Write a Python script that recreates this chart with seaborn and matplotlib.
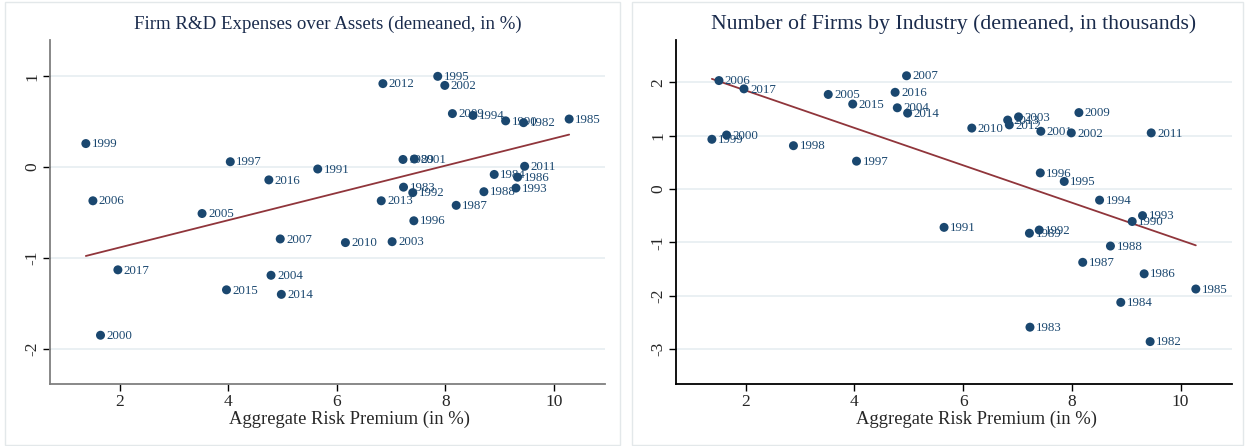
import numpy as np
import pandas as pd
import matplotlib
matplotlib.use("Agg")
import matplotlib.pyplot as plt
from matplotlib.patches import Rectangle
import seaborn as sns

years = [1982, 1983, 1984, 1985, 1986, 1987, 1988, 1989, 1990, 1991,
         1992, 1993, 1994, 1995, 1996, 1997, 1998, 1999, 2000, 2001,
         2002, 2003, 2004, 2005, 2006, 2007, 2009, 2010, 2011, 2012,
         2013, 2014, 2015, 2016, 2017]

risk_premium = [9.44, 7.23, 8.90, 10.28, 9.33, 8.20, 8.71, 7.22, 9.11, 5.65,
                7.40, 9.30, 8.51, 7.86, 7.42, 4.04, 2.88, 1.38, 1.65, 7.43,
                7.99, 7.02, 4.79, 3.52, 1.51, 4.96, 8.13, 6.16, 9.46, 6.85,
                6.82, 4.98, 3.97, 4.75, 1.97]

rd_expenses = [0.49, -0.22, -0.08, 0.53, -0.11, -0.42, -0.27, 0.085, 0.51, -0.02,
               -0.28, -0.23, 0.57, 1.00, -0.59, 0.06, np.nan, 0.26, -1.85, 0.09,
               0.90, -0.82, -1.19, -0.51, -0.37, -0.79, 0.59, -0.83, 0.01, 0.92,
               -0.37, -1.40, -1.35, -0.14, -1.13]

num_firms = [-2.86, -2.59, -2.125, -1.875, -1.59, -1.375, -1.07, -0.83, -0.61, -0.72,
             -0.77, -0.50, -0.21, 0.14, 0.30, 0.52, 0.81, 0.93, 1.01, 1.08,
             1.05, 1.35, 1.52, 1.77, 2.03, 2.12, 1.43, 1.14, 1.05, 1.20,
             1.29, 1.42, 1.59, 1.81, 1.875]

titles = ["Firm R&D Expenses over Assets (demeaned, in %)",
          "Number of Firms by Industry (demeaned, in thousands)"]
xlabel = "Aggregate Risk Premium (in %)"
left_yticks = [-2, -1, 0, 1]
right_yticks = [-3, -2, -1, 0, 1, 2]
xticks = [2, 4, 6, 8, 10]

df = pd.DataFrame({"year": years, "premium": risk_premium,
                   "rd": rd_expenses, "firms": num_firms})

sns.set_theme(style="white")
plt.rcParams["font.family"] = ["Liberation Serif", "DejaVu Serif"]

NAVY = "#1a476f"
MAROON = "#90353b"
GRID = "#e4ecf0"

W, H = 1248, 446
fig = plt.figure(figsize=(W / 100, H / 100), dpi=100)
fig.patch.set_facecolor("white")

# panel frames
for x0, x1 in [(5, 620), (632, 1243)]:
    fig.add_artist(Rectangle((x0 / W, 1 / H), (x1 - x0) / W, (H - 3) / H,
                             transform=fig.transFigure, fill=False,
                             edgecolor="#e3e8ea", linewidth=1.0))

ax_l = fig.add_axes([50 / W, 1 - 384.3 / H, 555 / W, 344.3 / H])
ax_r = fig.add_axes([676 / W, 1 - 384.3 / H, 555.7 / W, 344.3 / H])

panels = [
    (ax_l, "rd", titles[0], left_yticks, (-2.39, 1.40), "#7f7f7f", 13.6),
    (ax_r, "firms", titles[1], right_yticks, (-3.66, 2.79), "#000000", 15.7),
]

for ax, col, title, yt, ylim, spine_col, title_size in panels:
    sub = df.dropna(subset=[col])
    for v in yt:
        ax.axhline(v, color=GRID, linewidth=1.1, zorder=0)
    sns.regplot(data=sub, x="premium", y=col, ax=ax, ci=None, scatter=False,
                truncate=True, line_kws={"color": MAROON, "linewidth": 1.3})
    sns.scatterplot(data=sub, x="premium", y=col, ax=ax, color=NAVY, s=42,
                    edgecolor="none", zorder=3)
    for _, r in sub.iterrows():
        ax.annotate(str(int(r["year"])), (r["premium"], r[col]),
                    xytext=(4.3, -0.5), textcoords="offset points",
                    va="center", ha="left", fontsize=9.3, color=NAVY, zorder=4)
    ax.set_xlim(0.72, 10.94)
    ax.set_ylim(*ylim)
    ax.set_xticks(xticks)
    ax.set_yticks(yt)
    ax.set_xticklabels([str(t) for t in xticks], fontsize=12.5)
    ax.set_yticklabels([str(t) for t in yt], fontsize=12.5, rotation=90, va="center")
    ax.tick_params(axis="both", direction="out", length=5, width=1,
                   color="black", pad=2, left=True, bottom=True)
    ax.set_xlabel(xlabel, fontsize=13.4)
    ax.xaxis.set_label_coords(0.54, -0.078)
    ax.set_ylabel("")
    ax.set_title(title, fontsize=title_size, color="#1a2b4c", pad=8)
    for side in ["top", "right"]:
        ax.spines[side].set_visible(False)
    for side in ["left", "bottom"]:
        ax.spines[side].set_color(spine_col)
        ax.spines[side].set_linewidth(1.3)
    ax.set_facecolor("white")

fig.savefig("out.png", dpi=100, facecolor="white")
